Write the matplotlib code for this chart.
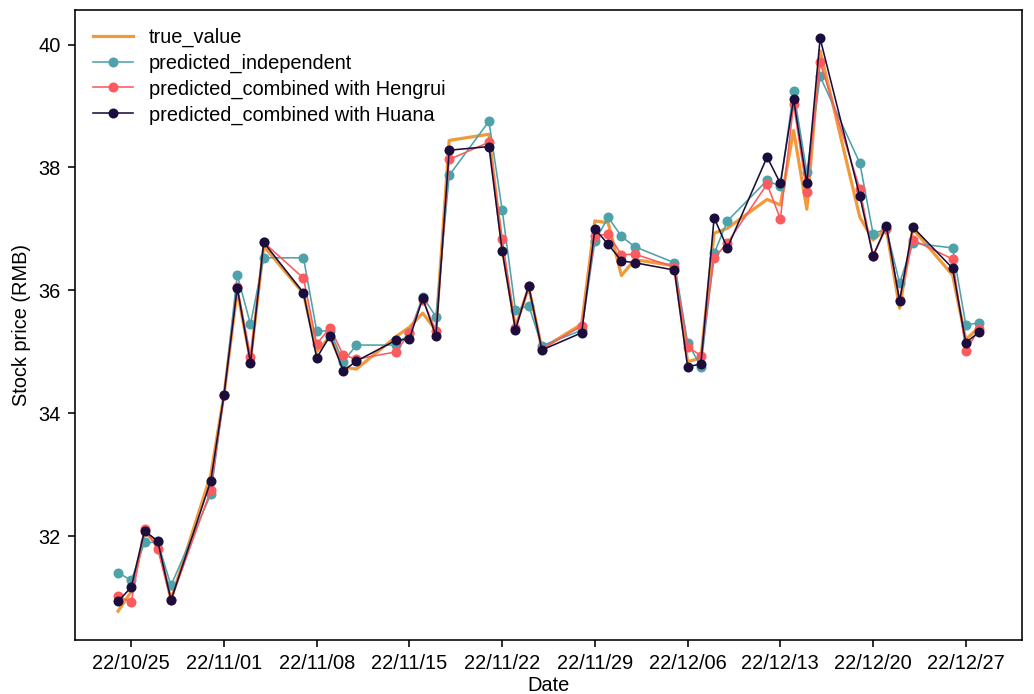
import matplotlib
matplotlib.use('Agg')
import matplotlib.pyplot as plt
import matplotlib.dates as mdates
import numpy as np
import pandas as pd

plt.rcParams['font.family'] = ['Liberation Sans', 'DejaVu Sans']

dates = pd.to_datetime([
    '2022-10-24', '2022-10-25', '2022-10-26', '2022-10-27', '2022-10-28',
    '2022-10-31', '2022-11-01', '2022-11-02', '2022-11-03', '2022-11-04',
    '2022-11-07', '2022-11-08', '2022-11-09', '2022-11-10', '2022-11-11',
    '2022-11-14', '2022-11-15', '2022-11-16', '2022-11-17', '2022-11-18',
    '2022-11-21', '2022-11-22', '2022-11-23', '2022-11-24', '2022-11-25',
    '2022-11-28', '2022-11-29', '2022-11-30', '2022-12-01', '2022-12-02',
    '2022-12-05', '2022-12-06', '2022-12-07', '2022-12-08', '2022-12-09',
    '2022-12-12', '2022-12-13', '2022-12-14', '2022-12-15', '2022-12-16',
    '2022-12-19', '2022-12-20', '2022-12-21', '2022-12-22', '2022-12-23',
    '2022-12-26', '2022-12-27', '2022-12-28'])

true_value = [30.78, 31.10, 32.05, 31.90, 30.97,
              33.00, 34.30, 36.00, 34.85, 36.72,
              35.95, 35.00, 35.25, 34.75, 34.72,
              35.25, 35.40, 35.63, 35.35, 38.44,
              38.54, 36.70, 35.40, 36.05, 35.05,
              35.45, 37.13, 37.10, 36.24, 36.50,
              36.40, 34.84, 34.90, 36.93, 37.01,
              37.48, 37.39, 38.60, 37.32, 39.90,
              37.19, 36.82, 37.00, 35.71, 37.00,
              36.25, 35.20, 35.40]

pred_independent = [31.41, 31.28, 31.90, 31.90, 31.20,
                    32.68, 34.30, 36.25, 35.45, 36.53,
                    36.53, 35.34, 35.34, 34.84, 35.11,
                    35.11, 35.30, 35.90, 35.57, 37.87,
                    38.75, 37.31, 35.68, 35.75, 35.10,
                    35.35, 36.80, 37.19, 36.88, 36.71,
                    36.45, 35.15, 34.76, 36.60, 37.13,
                    37.79, 37.69, 39.24, 37.92, 39.48,
                    38.07, 36.92, 37.00, 36.12, 36.77,
                    36.69, 35.44, 35.47]

pred_hengrui = [31.02, 30.93, 32.12, 31.79, 30.96,
                32.75, 34.30, 36.05, 34.92, 36.78,
                36.20, 35.13, 35.39, 34.95, 34.88,
                35.00, 35.31, 35.85, 35.34, 38.13,
                38.41, 36.84, 35.38, 36.07, 35.05,
                35.42, 36.88, 36.92, 36.58, 36.59,
                36.38, 35.08, 34.94, 36.53, 36.77,
                37.73, 37.16, 39.03, 37.60, 39.71,
                37.65, 36.56, 37.02, 35.85, 36.82,
                36.51, 35.02, 35.37]

pred_huana = [30.94, 31.17, 32.09, 31.92, 30.96,
              32.90, 34.30, 36.04, 34.82, 36.78,
              35.96, 34.90, 35.26, 34.69, 34.85,
              35.19, 35.21, 35.87, 35.26, 38.28,
              38.34, 36.64, 35.36, 36.07, 35.03,
              35.31, 37.00, 36.75, 36.48, 36.45,
              36.33, 34.76, 34.80, 37.18, 36.69,
              38.17, 37.74, 39.11, 37.74, 40.10,
              37.53, 36.56, 37.05, 35.83, 37.03,
              36.36, 35.15, 35.32]

fig = plt.figure(figsize=(1034 / 144, 694 / 144), dpi=144)
ax = fig.add_axes([0.0725, 0.078, 0.916, 0.908])

ax.plot(dates, true_value, color='#f09a3a', linewidth=1.6, label='true_value')
ax.plot(dates, pred_independent, color='#4ea2a9', linewidth=0.8, marker='o',
        markersize=4, label='predicted_independent')
ax.plot(dates, pred_hengrui, color='#fc5b5e', linewidth=0.8, marker='o',
        markersize=4, label='predicted_combined with Hengrui')
ax.plot(dates, pred_huana, color='#1b0e3d', linewidth=0.8, marker='o',
        markersize=4, label='predicted_combined with Huana')

ax.xaxis.set_major_locator(mdates.WeekdayLocator(byweekday=mdates.TU))
ax.xaxis.set_major_formatter(mdates.DateFormatter('%y/%m/%d'))

ax.set_xlabel('Date', labelpad=1.5)
ax.set_ylabel('Stock price (RMB)')

ax.legend(loc='upper left', frameon=False, labelspacing=0.33)

plt.savefig('out.png', dpi=144)
